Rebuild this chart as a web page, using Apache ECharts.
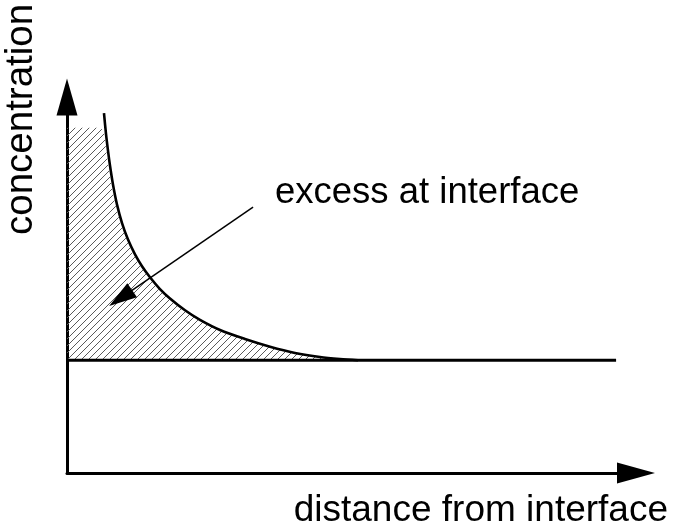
<!DOCTYPE html>
<html>
<head>
<meta charset="utf-8">
<style>
  html, body { margin: 0; padding: 0; background: #fff; }
  #chart { width: 674px; height: 531px; }
</style>
<script src="https://cdn.jsdelivr.net/npm/echarts@6/dist/echarts.min.js"></script>
</head>
<body>
<div id="chart"></div>
<script>
// Concentration profile near an interface (schematic units 0..10 on both axes)
const distance      = [0.650, 0.685, 0.721, 0.756, 0.808, 0.879, 0.967, 1.072, 1.195, 1.318, 1.459, 1.634, 1.810, 2.074, 2.337, 2.689, 3.128, 3.568, 4.007, 4.446, 4.798, 5.114];
const concentration = [9.569, 9.027, 8.566, 8.170, 7.673, 7.138, 6.646, 6.207, 5.814, 5.500, 5.205, 4.891, 4.641, 4.327, 4.072, 3.803, 3.564, 3.359, 3.194, 3.085, 3.032, 3.000];
const bulkLevel = 3.0;          // bulk concentration far from the interface
const bulkEnd = 9.65;           // extent of the bulk line
const hatchTop = 9.18;          // upper edge of the shaded excess region
const pointerFrom = [3.27, 7.07];
const pointerTo   = [0.74, 4.44];
const xTitle = 'distance from interface';
const yTitle = 'concentration';
const excessLabel = 'excess at interface';

const FONT = '"Liberation Sans", Arial, sans-serif';

// diagonal hatch tile
function hatchTile() {
  const s = 7;
  const c = document.createElement('canvas');
  c.width = s; c.height = s;
  const g = c.getContext('2d');
  g.strokeStyle = '#5a5a5a';
  g.lineWidth = 1;
  g.beginPath();
  g.moveTo(-1, s + 1); g.lineTo(s + 1, -1);
  g.moveTo(-1, 1); g.lineTo(1, -1);
  g.moveTo(s - 1, s + 1); g.lineTo(s + 1, s - 1);
  g.stroke();
  return c;
}

// outline of the excess region: left axis, top edge, then down the profile
const curvePts = distance.map((d, i) => [d, concentration[i]]);
const hatchPoly = [[0, bulkLevel], [0, hatchTop]];
for (let i = 0; i < curvePts.length; i++) {
  const [x, y] = curvePts[i];
  if (y <= hatchTop) {
    if (i > 0 && curvePts[i - 1][1] > hatchTop) {
      const [x0, y0] = curvePts[i - 1];
      const t = (y0 - hatchTop) / (y0 - y);
      hatchPoly.push([x0 + t * (x - x0) - 0.08, hatchTop]);
    }
    hatchPoly.push([x - 0.03, y]);
  }
}
hatchPoly.push([curvePts[curvePts.length - 1][0], bulkLevel]);

const chart = echarts.init(document.getElementById('chart'), null, { renderer: 'canvas' });
const tile = hatchTile();

const axisCommon = {
  type: 'value',
  min: 0,
  max: 10,
  axisTick: { show: false },
  axisLabel: { show: false },
  splitLine: { show: false }
};

chart.setOption({
  animation: false,
  backgroundColor: '#fff',
  grid: { left: 67, right: 38, top: 97, bottom: 58 },
  xAxis: Object.assign({}, axisCommon, {
    axisLine: {
      show: true, onZero: false,
      symbol: ['none', 'triangle'], symbolSize: [21, 38],
      lineStyle: { color: '#000', width: 3 }
    }
  }),
  yAxis: Object.assign({}, axisCommon, {
    axisLine: {
      show: true, onZero: false,
      symbol: ['none', 'triangle'], symbolSize: [21, 37],
      lineStyle: { color: '#000', width: 3 }
    }
  }),
  graphic: [
    {
      type: 'text', left: 275, top: 174,
      style: { text: excessLabel, font: '36.5px ' + FONT, fill: '#000' }
    },
    {
      type: 'text', right: 6, top: 492,
      style: { text: xTitle, font: '37px ' + FONT, fill: '#000' }
    },
    {
      type: 'text', x: 2, y: 235, rotation: Math.PI / 2,
      style: { text: yTitle, font: '38.5px ' + FONT, fill: '#000', verticalAlign: 'top' }
    }
  ],
  series: [
    {
      // hatched excess region
      type: 'custom',
      coordinateSystem: 'cartesian2d',
      data: [0],
      z: 1,
      silent: true,
      renderItem: function (params, api) {
        const pts = hatchPoly.map(p => api.coord(p));
        return {
          type: 'polygon',
          shape: { points: pts },
          style: { fill: { image: tile, repeat: 'repeat' }, stroke: null }
        };
      }
    },
    {
      type: 'line',
      data: [[0, bulkLevel], [bulkEnd, bulkLevel]],
      symbol: 'none',
      z: 3,
      lineStyle: { color: '#000', width: 3 }
    },
    {
      type: 'line',
      data: curvePts,
      symbol: 'none',
      smooth: 0.3,
      z: 3,
      lineStyle: { color: '#000', width: 2.6 }
    },
    {
      // pointer from the label into the shaded region
      type: 'custom',
      coordinateSystem: 'cartesian2d',
      data: [0],
      z: 4,
      silent: true,
      renderItem: function (params, api) {
        const a = api.coord(pointerFrom);
        const b = api.coord(pointerTo);
        const dx = b[0] - a[0], dy = b[1] - a[1];
        const len = Math.sqrt(dx * dx + dy * dy);
        const ux = dx / len, uy = dy / len;
        const headLen = 28, headHalf = 8.5;
        const bx = b[0] - ux * headLen, by = b[1] - uy * headLen;
        return {
          type: 'group',
          children: [
            {
              type: 'line',
              shape: { x1: a[0], y1: a[1], x2: bx + ux * 2, y2: by + uy * 2 },
              style: { stroke: '#000', lineWidth: 1.5 }
            },
            {
              type: 'polygon',
              shape: { points: [
                [b[0], b[1]],
                [bx - uy * headHalf, by + ux * headHalf],
                [bx + uy * headHalf, by - ux * headHalf]
              ] },
              style: { fill: '#000' }
            }
          ]
        };
      }
    }
  ]
});
</script>
</body>
</html>
